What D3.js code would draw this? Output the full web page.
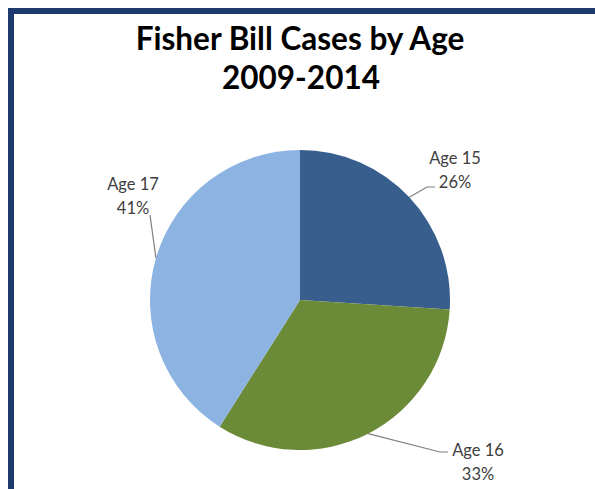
<!DOCTYPE html>
<html>
<head>
<meta charset="utf-8">
<script src="https://cdn.jsdelivr.net/npm/d3@7/dist/d3.min.js"></script>
<style>
  html, body { margin: 0; padding: 0; background: #ffffff; }
  svg { display: block; }
</style>
</head>
<body>
<svg id="chart" width="595" height="489"></svg>
<script>
// Share of Fisher Bill cases by age group, 2009-2014
const categories = ["Age 15", "Age 16", "Age 17"];
const shares = [26, 33, 41];
const sliceColors = ["#385E8E", "#6B8B38", "#8DB3E2"];
const titleLines = ["Fisher Bill Cases by Age", "2009-2014"];

// Where each label block sits and how its leader line bends
const labelLayout = [
  { x: 455, y: 164, anchor: "middle", elbow: [[427, 187], [435, 187]] },
  { x: 478, y: 456, anchor: "middle", elbow: [[440, 452], [448, 452]] },
  { x: 133, y: 190, anchor: "middle", elbow: [[150, 215]] }
];

const W = 595, H = 489;
const cx = 300, cy = 300, R = 150;
const labelFont = "Lato, 'Open Sans', sans-serif";

const svg = d3.select("#chart");

// Frame: heavy top and left rules
svg.append("rect").attr("x", 8).attr("y", 8).attr("width", W - 8).attr("height", 6).attr("fill", "#1C3A6E");
svg.append("rect").attr("x", 8).attr("y", 8).attr("width", 6).attr("height", H - 8).attr("fill", "#1C3A6E");

// Title
const title = svg.append("text")
  .attr("text-anchor", "middle")
  .attr("font-family", labelFont)
  .attr("font-weight", "bold")
  .attr("font-size", 31.5)
  .attr("fill", "#000000");
title.append("tspan").attr("x", 300).attr("y", 50).text(titleLines[0]);
title.append("tspan").attr("x", 301).attr("y", 89).text(titleLines[1]);

// Pie
const data = categories.map((c, i) => ({ category: c, value: shares[i], color: sliceColors[i], layout: labelLayout[i] }));
const pie = d3.pie().value(d => d.value).sort(null).startAngle(0).endAngle(2 * Math.PI);
const arc = d3.arc().innerRadius(0).outerRadius(R);
const arcs = pie(data);

const g = svg.append("g").attr("transform", `translate(${cx},${cy})`);
g.selectAll("path.slice")
  .data(arcs)
  .join("path")
  .attr("class", "slice")
  .attr("d", arc)
  .attr("fill", d => d.data.color);

// Leader lines from each slice's mid-angle on the rim to its label
const rimPoint = d => {
  const a = (d.startAngle + d.endAngle) / 2;
  return [cx + R * Math.sin(a), cy - R * Math.cos(a)];
};
svg.selectAll("polyline.leader")
  .data(arcs)
  .join("polyline")
  .attr("class", "leader")
  .attr("fill", "none")
  .attr("stroke", "#7F7F7F")
  .attr("stroke-width", 1.2)
  .attr("points", d => [rimPoint(d)].concat(d.data.layout.elbow).map(p => p.join(",")).join(" "));

// Category and percentage labels
const labels = svg.selectAll("text.label")
  .data(arcs)
  .join("text")
  .attr("class", "label")
  .attr("text-anchor", d => d.data.layout.anchor)
  .attr("font-family", labelFont)
  .attr("font-size", 16.5)
  .attr("fill", "#404040");
labels.append("tspan")
  .attr("x", d => d.data.layout.x)
  .attr("y", d => d.data.layout.y)
  .text(d => d.data.category);
labels.append("tspan")
  .attr("x", d => d.data.layout.x)
  .attr("y", d => d.data.layout.y + 24)
  .text(d => d3.format(".0%")(d.data.value / 100));
</script>
</body>
</html>
